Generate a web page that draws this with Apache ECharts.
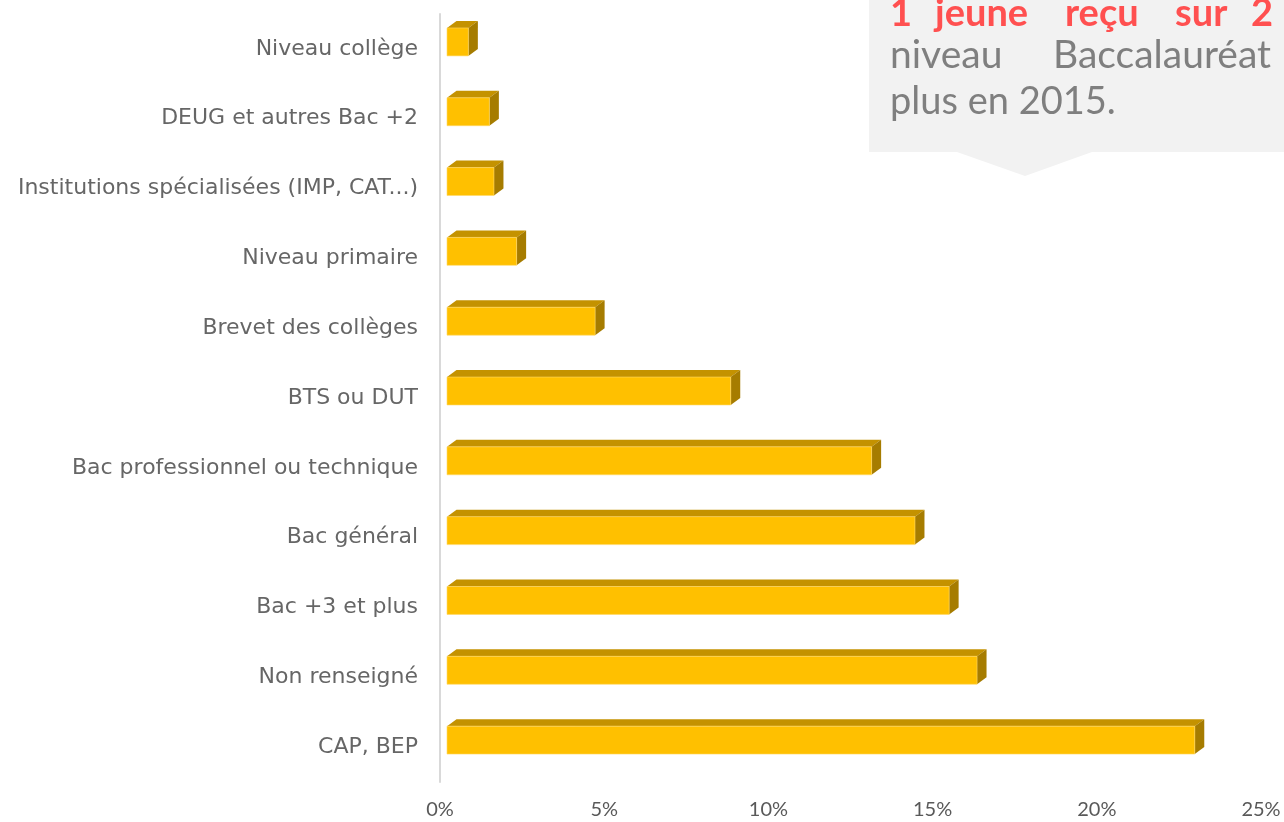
<!DOCTYPE html>
<html>
<head>
<meta charset="utf-8">
<script src="https://cdn.jsdelivr.net/npm/echarts@6/dist/echarts.min.js"></script>
<style>
html,body{margin:0;padding:0;background:#fff;}
#main{width:1284px;height:822px;}
</style>
</head>
<body>
<div id="main"></div>
<script>
// Categories (top to bottom)
const categories = [
  "Niveau collège",
  "DEUG et autres Bac +2",
  "Institutions spécialisées (IMP, CAT...)",
  "Niveau primaire",
  "Brevet des collèges",
  "BTS ou DUT",
  "Bac professionnel ou technique",
  "Bac général",
  "Bac +3 et plus",
  "Non renseigné",
  "CAP, BEP"
];
// Share of young people (%)
const values = [0.65, 1.29, 1.43, 2.12, 4.51, 8.64, 12.93, 14.25, 15.29, 16.14, 22.77];
const tickValues = [0, 5, 10, 15, 20, 25];

// Callout words
const calloutLine1 = ["1", "jeune", "reçu", "sur", "2"];
const calloutLine2 = ["niveau", "Baccalauréat"];
const calloutLine3 = ["plus en 2015."];

const FONT = "Lato";
const LABEL_FONT = "'DejaVu Sans'";
const chart = echarts.init(document.getElementById('main'), null, {renderer: 'canvas'});

const frontColor = '#FFC000';
const topColor = '#C49200';
const sideColor = '#A67C00';

function renderItem(params, api) {
  const idx = api.value(1);
  const v = api.value(0);
  const p0 = api.coord([0, idx]);
  const p1 = api.coord([v, idx]);
  const band = api.size([0, 1])[1];
  const shift = 7;
  const x0 = p0[0] + shift, x1 = p1[0] + shift;
  const cy = p0[1];
  const yTop = cy - band * 0.30;
  const yBot = cy + band * 0.10;
  const dx = 9.5, dy = 7;
  return {
    type: 'group',
    children: [
      {type: 'polygon', shape: {points: [[x0, yTop], [x0 + dx, yTop - dy], [x1 + dx, yTop - dy], [x1, yTop]]},
        style: {fill: topColor}},
      {type: 'polygon', shape: {points: [[x1, yTop], [x1 + dx, yTop - dy], [x1 + dx, yBot - dy], [x1, yBot]]},
        style: {fill: sideColor}},
      {type: 'rect', shape: {x: x0, y: yTop, width: x1 - x0, height: yBot - yTop},
        style: {fill: frontColor, stroke: '#FFD966', lineWidth: 0.6}}
    ]
  };
}

const graphics = [
  {type: 'polygon', z: 10, shape: {points: [[869,0],[1284,0],[1284,152],[1092,152],[1025,176],[957,152],[869,152]]},
    style: {fill: '#F2F2F2'}}
];
const l1x = [890, 935, 1065, 1175, 1251];
calloutLine1.forEach((w, i) => graphics.push({type: 'text', z: 11, left: l1x[i], top: -5,
  style: {text: w, fill: '#FF5050', font: 'bold 38px ' + FONT}}));
const l2x = [890, 1053];
calloutLine2.forEach((w, i) => graphics.push({type: 'text', z: 11, left: l2x[i], top: 36,
  style: {text: w, fill: '#7F7F7F', font: '39px ' + FONT}}));
calloutLine3.forEach((w, i) => graphics.push({type: 'text', z: 11, left: 890, top: 83,
  style: {text: w, fill: '#7F7F7F', font: '38px ' + FONT}}));

chart.setOption({
  animation: false,
  grid: {left: 440, right: 23, top: 14, bottom: 40, containLabel: false},
  xAxis: {
    type: 'value', min: 0, max: 25, interval: 5,
    axisLine: {show: false}, axisTick: {show: false}, splitLine: {show: false},
    axisLabel: {formatter: v => tickValues.includes(v) ? v + '%' : '', color: '#595959', fontFamily: FONT, fontSize: 20, margin: 18}
  },
  yAxis: {
    type: 'category', data: categories, inverse: true,
    axisLine: {show: true, lineStyle: {color: '#D9D9D9', width: 2}},
    axisTick: {show: false},
    axisLabel: {color: '#666666', fontFamily: LABEL_FONT, fontSize: 22, margin: 22, padding: [7, 0, 0, 0]}
  },
  series: [{
    type: 'custom',
    renderItem: renderItem,
    encode: {x: 0, y: 1},
    data: values.map((v, i) => [v, i])
  }],
  graphic: graphics
});
</script>
</body>
</html>
